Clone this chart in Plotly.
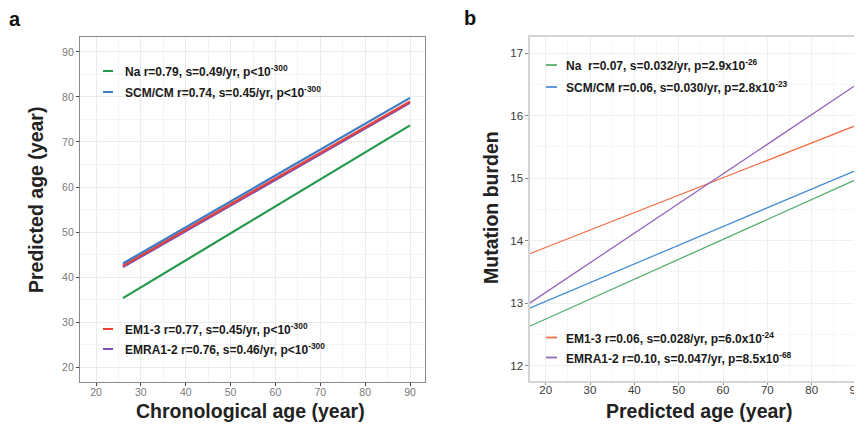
import plotly.graph_objects as go

# browser adds an 8px body margin, so the figure is laid out 8px in from the window
OFF = 8
W, H = 862 - OFF, 425 - OFF

# ---------------- data ----------------
groups = ["Na", "SCM/CM", "EM1-3", "EMRA1-2"]

# panel a: chronological age vs predicted age (fitted lines)
a_x = [26.0, 90.0]
a_na = [35.3, 73.7]
a_scm = [43.0, 79.8]
a_em = [42.5, 79.0]
a_emra = [42.2, 78.7]

# panel b: predicted age vs mutation burden (fitted lines)
b_x = [16.4, 91.4]
b_na = [12.63, 15.02]
b_scm = [12.92, 15.165]
b_em = [13.79, 15.88]
b_emra = [13.00, 16.555]

a_labels = [
    "Na r=0.79, s=0.49/yr, p<10<sup>-300</sup>",
    "SCM/CM r=0.74, s=0.45/yr, p<10<sup>-300</sup>",
    "EM1-3 r=0.77, s=0.45/yr, p<10<sup>-300</sup>",
    "EMRA1-2 r=0.76, s=0.46/yr, p<10<sup>-300</sup>",
]
b_labels = [
    "Na\u00a0\u00a0r=0.07, s=0.032/yr, p=2.9x10<sup>-26</sup>",
    "SCM/CM r=0.06, s=0.030/yr, p=2.8x10<sup>-23</sup>",
    "EM1-3 r=0.06, s=0.028/yr, p=6.0x10<sup>-24</sup>",
    "EMRA1-2 r=0.10, s=0.047/yr, p=8.5x10<sup>-68</sup>",
]

a_ticks = [20, 30, 40, 50, 60, 70, 80, 90]
b_xticks = [20, 30, 40, 50, 60, 70, 80, 90]
b_yticks = [12, 13, 14, 15, 16, 17]

a_colors = ["#23994a", "#3b7bc4", "#e8413a", "#7b4fb0"]
b_colors = ["#55b06e", "#4a8fd6", "#f46d43", "#9467bd"]


def px(x):
    return (x - OFF) / W


def py(y):
    return 1 - (y - OFF) / H


fig = go.Figure()

a_vals = [a_na, a_scm, a_em, a_emra]
order_a = [0, 3, 2, 1]
for i in order_a:
    fig.add_trace(go.Scatter(x=a_x, y=a_vals[i], mode="lines", name=groups[i],
                             line=dict(color=a_colors[i], width=2.2),
                             xaxis="x", yaxis="y", showlegend=False))

b_vals = [b_na, b_scm, b_em, b_emra]
for i in range(4):
    fig.add_trace(go.Scatter(x=b_x, y=b_vals[i], mode="lines", name=groups[i],
                             line=dict(color=b_colors[i], width=1.3),
                             xaxis="x2", yaxis="y2", showlegend=False))

font_family = "Liberation Sans, Arial, sans-serif"

fig.update_layout(
    width=W, height=H,
    margin=dict(l=0, r=0, t=0, b=0),
    paper_bgcolor="white", plot_bgcolor="white",
    font=dict(family=font_family),
    xaxis=dict(domain=[px(80), px(425)], range=[16.43, 93.34],
               tickvals=a_ticks, gridcolor="#ebebeb", gridwidth=1,
               minor=dict(dtick=5, tick0=0, showgrid=True, gridcolor="#f3f3f3", ticks=""),
               showline=True, linecolor="#8a8a8a", linewidth=1.2, mirror=True,
               ticks="outside", ticklen=3, tickcolor="#444", tickwidth=1,
               ticklabelstandoff=-3,
               tickfont=dict(size=10.5, color="#7a7a7a"), zeroline=False,
               anchor="y"),
    yaxis=dict(domain=[py(382), py(37)], range=[16.67, 93.33],
               tickvals=a_ticks, gridcolor="#ebebeb", gridwidth=1,
               minor=dict(dtick=5, tick0=0, showgrid=True, gridcolor="#f3f3f3", ticks=""),
               showline=True, linecolor="#8a8a8a", linewidth=1.2, mirror=True,
               ticks="outside", ticklen=3, tickcolor="#444", tickwidth=1,
               tickfont=dict(size=10.5, color="#7a7a7a"), zeroline=False,
               anchor="x"),
    xaxis2=dict(domain=[px(529.7), 1.0], range=[16.4, 91.35],
                tickvals=b_xticks, gridcolor="#efefef", gridwidth=1,
                minor=dict(dtick=5, tick0=0, showgrid=True, gridcolor="#f6f6f6", ticks=""),
                showline=True, linecolor="#d4d4d4", linewidth=1.5, mirror=True,
                ticks="outside", ticklen=2.5, tickcolor="#888", tickwidth=1,
                ticklabelstandoff=-5, ticklabeloverflow="allow",
                tickfont=dict(size=11.5, color="#3a3a3a"), zeroline=False,
                anchor="y2"),
    yaxis2=dict(domain=[py(381), py(37)], range=[11.755, 17.256],
                tickvals=b_yticks, gridcolor="#efefef", gridwidth=1,
                minor=dict(dtick=0.5, tick0=0, showgrid=True, gridcolor="#f6f6f6", ticks=""),
                showline=True, linecolor="#d4d4d4", linewidth=1.5, mirror=False,
                ticks="outside", ticklen=2.5, tickcolor="#888", tickwidth=1,
                tickfont=dict(size=11.5, color="#3a3a3a"), zeroline=False,
                anchor="x2"),
)

annotations = []
shapes = []


def centered(text, x, y, size, angle=0, color="#222"):
    return dict(text=text, x=px(x), y=py(y), xref="paper", yref="paper",
                xanchor="center", yanchor="middle", showarrow=False,
                textangle=angle, font=dict(size=size, color=color))


# panel letters
annotations.append(centered("<b>a</b>", 15.5, 19, 20, color="#111"))
annotations.append(centered("<b>b</b>", 469.5, 18, 20, color="#111"))

# axis titles
annotations.append(centered("<b>Chronological age (year)</b>", 251, 411, 19.5))
annotations.append(centered("<b>Predicted age (year)</b>", 36, 200, 19.5, angle=-90))
annotations.append(centered("<b>Predicted age (year)</b>", 698.5, 411, 19.5))
annotations.append(centered("<b>Mutation burden</b>", 491, 207, 19.5, angle=-90))

# legends panel a
a_rows = [71, 92, 329, 349]
for i in range(4):
    annotations.append(dict(text="<b>" + a_labels[i] + "</b>", x=px(123), y=py(a_rows[i]),
                            xref="paper", yref="paper", xanchor="left", yanchor="middle",
                            showarrow=False, font=dict(size=12, color="#1a1a1a")))
    shapes.append(dict(type="line", xref="paper", yref="paper",
                       x0=px(103), x1=px(113), y0=py(a_rows[i]), y1=py(a_rows[i]),
                       line=dict(color=a_colors[i], width=2)))

# legends panel b
b_rows = [65, 87, 337.5, 357.5]
for i in range(4):
    annotations.append(dict(text="<b>" + b_labels[i] + "</b>", x=px(564), y=py(b_rows[i]),
                            xref="paper", yref="paper", xanchor="left", yanchor="middle",
                            showarrow=False, font=dict(size=12, color="#1a1a1a")))
    shapes.append(dict(type="line", xref="paper", yref="paper",
                       x0=px(546), x1=px(557), y0=py(b_rows[i]), y1=py(b_rows[i]),
                       line=dict(color=b_colors[i], width=1.8)))

fig.update_layout(annotations=annotations, shapes=shapes)

fig.write_html("out.html")
